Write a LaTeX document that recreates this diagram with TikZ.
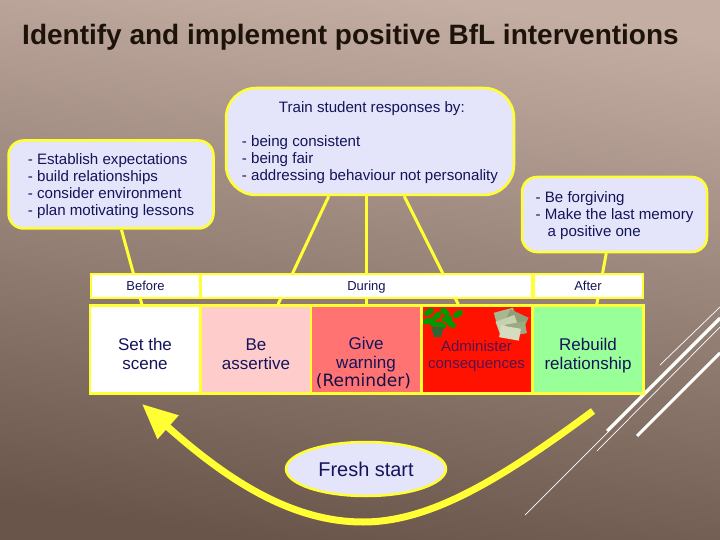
\documentclass[tikz,border=0pt]{standalone}
\usepackage{fontspec}
\setmainfont{Liberation Sans}
\newfontfamily\remindfont{DejaVu Sans}
\usetikzlibrary{arrows.meta, shapes.geometric}
\definecolor{bfltop}{HTML}{C4AEA3}
\definecolor{bflbottom}{HTML}{69554A}
\definecolor{bflyellow}{HTML}{FFFF33}
\definecolor{bflpanel}{HTML}{E4E4FA}
\definecolor{bflink}{HTML}{14145A}
\definecolor{bflplum}{HTML}{5A1050}
\tikzset{
  callout/.style={draw=bflyellow, line width=2.5pt, fill=bflpanel, text=bflink, rounded corners=15pt, align=left, inner sep=0pt, font=\fontsize{15.1}{17}\selectfont},
  phasebar/.style={draw=bflyellow, line width=2pt, fill=white, text=bflink, inner sep=0pt, minimum height=24pt, text height=11pt, text depth=2pt, font=\fontsize{13}{15}\selectfont},
  rowbox/.style={draw=bflyellow, line width=2.5pt, text=bflink, align=center, inner sep=0pt, minimum width=110.5pt, minimum height=88pt, font=\fontsize{17}{19}\selectfont},
  link/.style={draw=bflyellow, line width=3pt},
  glare/.style={draw=white, line width=0.7pt},
  glarethick/.style={draw=white, line width=3pt}
}
\begin{document}
\begin{tikzpicture}[x=1pt, y=-1pt]
  \shade[top color=bfltop, bottom color=bflbottom, shading angle=-8] (0,0) rectangle (720,540);
  \useasboundingbox (0,0) rectangle (720,540);

  % slide decoration
  \draw[glare] (660,365) -- (720,307);
  \draw[glare] (597,451) -- (720,327);
  \draw[glare] (525,515) -- (720,320);
  \draw[glarethick] (607,431) -- (720,318);
  \draw[glarethick] (637,436) -- (720,353);

  \node[font=\bfseries\fontsize{28}{32}\selectfont, text=black!85!brown, inner sep=0pt] (title) at (350.5,37) {Identify and implement positive BfL interventions};

  % row of stages
  \node[rowbox, fill=white] (setscene) at (145,349.5) {\rule{0pt}{21pt}Set the\\scene};
  \node[rowbox, fill=red!20!white] (assertive) at (256,349.5) {\rule{0pt}{21pt}Be\\assertive};
  \node[rowbox, fill=red!55!white] (warning) at (366,349.5) {\rule{0pt}{23pt}Give\\warning};
  \node[rowbox, fill=red!85!orange, text=bflplum, font=\fontsize{15}{17}\selectfont] (consequences) at (476.5,349.5) {\rule{0pt}{25pt}Administer\\consequences};
  \node[rowbox, fill=green!40!white] (rebuild) at (588,349.5) {\rule{0pt}{25pt}Rebuild\\relationship};
  \node[font=\remindfont\fontsize{17}{19}\selectfont, text=bflink!80!black, inner sep=0pt] (reminder) at (363.5,381) {(Reminder)};

  % callouts
  \node[callout, minimum width=205pt, minimum height=88pt] (expect) at (111,184.5) {\rule{0pt}{15pt}- Establish expectations\\- build relationships\\- consider environment\\- plan motivating lessons};
  \node[callout, rounded corners=30pt, minimum width=288pt, minimum height=107pt] (train) at (370,141.5) {\rule{0pt}{13pt}\hspace{37pt}Train student responses by:\\[17pt]- being consistent\\- being fair\\- addressing behaviour not personality};
  \node[callout, minimum width=185pt, minimum height=75pt] (forgive) at (614.5,214.5) {\rule{0pt}{13pt}- Be forgiving\\- Make the last memory\\\hspace{12pt}a positive one};

  \draw[link] (expect.-77) -- (setscene.94);
  \draw[link] (train.-127.5) -- (assertive.64.5);
  \draw[link] (train.south -| warning.north) -- (warning.north);
  \draw[link] (train.-58.3) -- (consequences.112.8);
  \draw[link] (forgive.-102.8) -- (rebuild.79);

  % phase bars on top of the links
  \node[phasebar, minimum width=109pt] (before) at (145.5,285.5) {Before};
  \node[phasebar, minimum width=331pt] (during) at (366.5,285.5) {During};
  \node[phasebar, minimum width=109pt] (after) at (588,285.5) {After};

  % plant
  \foreach \x/\y/\a in {429/312/30, 433/323/-30, 428/321/20, 437/316/40, 441/325/-20, 447/319/10, 451/324/-30, 458/314/30, 445/312/-40}
    \fill[green!60!black, rotate around={\a:(\x,\y)}] (\x,\y) ellipse [x radius=5.5, y radius=3.2];
  \fill[gray!70!green!60!black] (431,327) -- (444,327) -- (441,337) -- (434,337) -- cycle;
  % banknotes
  \foreach \x/\y/\a/\c in {505/316/15/A9B78F, 517/319/-25/8F9F78, 507/324/20/C6D2AE, 516/329/10/9BAA82, 510/333/-10/D5DCC0}
    {\definecolor{notecol}{HTML}{\c}
    \fill[notecol, rotate around={\a:(\x,\y)}] (\x-10,\y-6) rectangle (\x+10,\y+6);}

  \node[draw=bflyellow, line width=2.5pt, fill=bflpanel, text=bflink, ellipse, inner sep=0pt, minimum width=160pt, minimum height=54pt, font=\fontsize{19.9}{23}\selectfont] (fresh) at (366,469) {Fresh start};

  \coordinate (sweepstart) at (593,411);
  \coordinate (sweepend) at (142,404);
  \draw[draw=bflyellow, line width=7pt, -{Triangle[length=35pt,width=30pt]}] (sweepstart) .. controls (500,480) and (430,522) .. (363,522) .. controls (290,522) and (225,478) .. (sweepend);
\end{tikzpicture}
\end{document}
